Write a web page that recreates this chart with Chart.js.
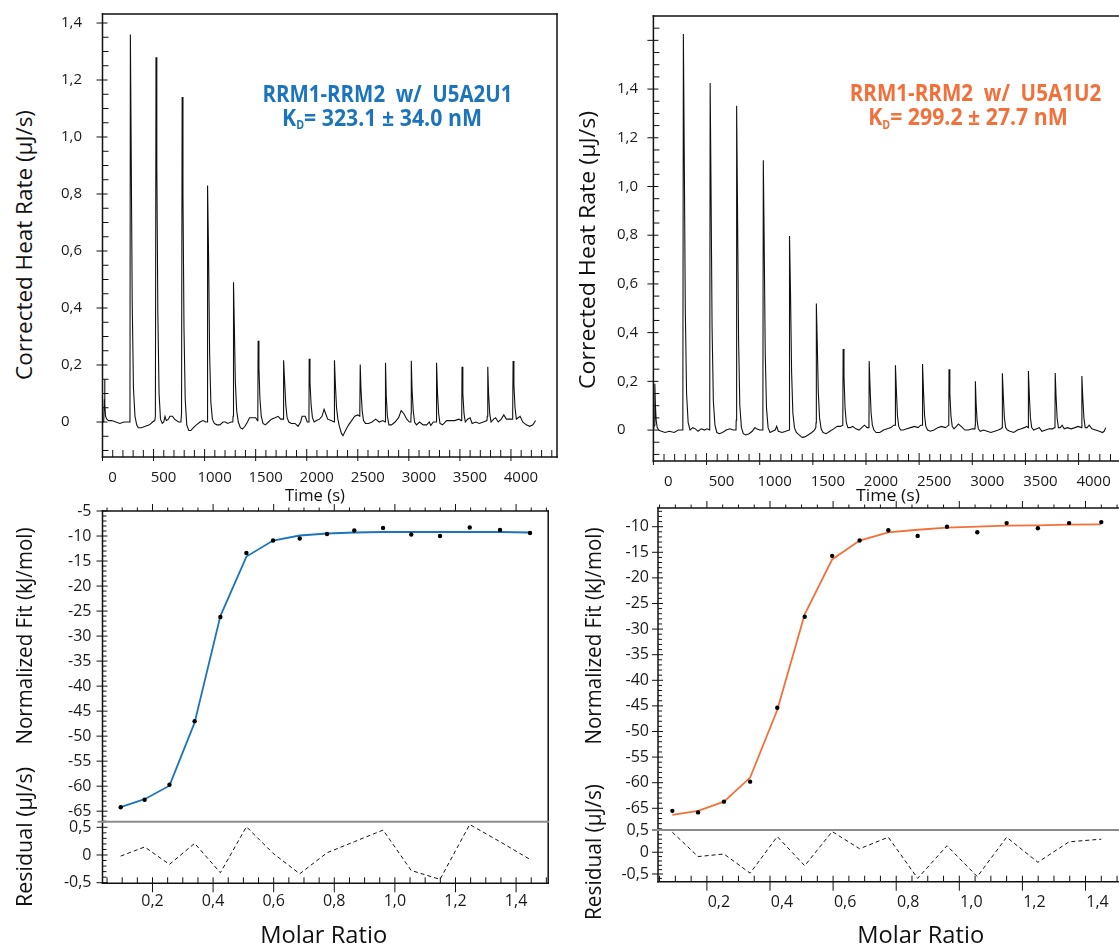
<!DOCTYPE html>
<html><head><meta charset="utf-8">
<script src="https://cdn.jsdelivr.net/npm/chart.js@4.4.1/dist/chart.umd.min.js"></script>
<style>
html,body{margin:0;padding:0;background:#fff;overflow:hidden;width:1119px;height:944px;position:relative;}
canvas{position:absolute;}
.t{position:absolute;white-space:pre;line-height:1;margin:0;transform-origin:50% 50%;}
.sub{font-size:0.5em;position:relative;top:0.32em;}
</style></head><body>
<script>
// ---------- DATA ----------
const timeTicks = [0,500,1000,1500,2000,2500,3000,3500,4000];
const heatTicks = [0,0.2,0.4,0.6,0.8,1.0,1.2,1.4];
const fitTicksL = [-65,-60,-55,-50,-45,-40,-35,-30,-25,-20,-15,-10,-5];
const fitTicksR = [-65,-60,-55,-50,-45,-40,-35,-30,-25,-20,-15,-10];
const residTicks = [-0.5,0,0.5];
const molarTicks = [0.2,0.4,0.6,0.8,1.0,1.2,1.4];

// thermogram U5A2U1 : [time (s), corrected heat rate (µJ/s)]
const thermoL = [
[0,0.0],[12,0.0],[18,0.08],[21,0.15],[24,0.06],[30,0.02],[42,0.01],[60,0.005],[90,0.005],[130,0.0],[170,-0.005],[210,0.0],[250,0.0],[265,0.0],
[269,0.05],[273,1.36],[281,0.95],[291,0.42],[303,0.12],[318,0.02],[335,-0.01],[350,-0.02],[380,-0.02],[420,-0.015],[460,-0.01],[490,0.0],[512,0.005],
[518,0.02],[524,1.28],[532,0.9],[542,0.38],[554,0.1],[568,0.01],[585,-0.005],[600,0.0],[612,0.02],[625,0.005],[645,0.01],[660,0.02],[685,0.02],[705,0.01],[745,0.0],[768,0.0],
[774,0.03],[780,1.14],[788,0.8],[798,0.33],[810,0.08],[825,-0.01],[845,-0.03],[865,-0.03],[890,-0.02],[920,-0.01],[955,0.0],[985,0.005],[1010,0.0],[1024,0.0],
[1027,0.02],[1031,0.83],[1039,0.58],[1049,0.24],[1061,0.07],[1076,0.01],[1095,-0.005],[1120,-0.01],[1150,-0.01],[1180,0.0],[1205,0.0],[1225,-0.005],[1260,0.0],[1276,0.0],
[1279,0.02],[1283,0.49],[1291,0.34],[1301,0.14],[1314,0.04],[1330,0.0],[1350,-0.02],[1370,-0.025],[1395,-0.015],[1420,0.0],[1440,0.015],[1470,0.015],[1500,0.015],[1518,0.005],
[1521,0.02],[1524,0.285],[1532,0.19],[1542,0.08],[1555,0.02],[1572,-0.005],[1595,-0.01],[1625,0.0],[1655,0.01],[1690,0.015],[1720,0.02],[1745,0.01],[1768,0.01],
[1771,0.03],[1776,0.217],[1784,0.14],[1795,0.06],[1808,0.015],[1825,0.0],[1850,-0.005],[1885,-0.005],[1915,-0.015],[1940,0.0],[1955,0.02],[1985,0.02],[2005,0.0],[2020,0.0],
[2022,0.03],[2024,0.222],[2032,0.14],[2043,0.06],[2056,0.015],[2073,0.0],[2095,0.005],[2125,0.01],[2150,0.02],[2170,0.045],[2185,0.03],[2205,0.01],[2240,0.005],[2268,0.0],
[2270,0.03],[2273,0.217],[2281,0.13],[2292,0.05],[2305,0.01],[2320,-0.015],[2340,-0.04],[2355,-0.048],[2380,-0.03],[2410,-0.01],[2440,0.005],[2470,0.02],[2500,0.025],[2518,0.02],
[2520,0.04],[2524,0.202],[2532,0.11],[2543,0.04],[2556,0.005],[2575,-0.005],[2605,-0.005],[2640,0.0],[2675,0.01],[2710,0.0],[2745,0.005],[2768,0.0],
[2770,0.02],[2773,0.208],[2779,0.09],[2790,0.02],[2805,-0.01],[2830,-0.01],[2865,0.0],[2900,0.015],[2925,0.04],[2950,0.03],[2980,0.01],[3005,0.0],[3020,0.0],
[3022,0.03],[3024,0.215],[3032,0.11],[3043,0.04],[3056,0.0],[3075,-0.01],[3105,0.0],[3140,-0.01],[3175,-0.01],[3200,0.0],[3215,-0.012],[3240,0.0],[3268,0.0],
[3270,0.03],[3273,0.208],[3281,0.1],[3292,0.03],[3305,-0.005],[3330,-0.01],[3370,0.005],[3410,0.005],[3450,0.005],[3490,0.01],[3515,0.005],
[3518,0.02],[3521,0.194],[3529,0.1],[3540,0.03],[3553,0.0],[3575,0.01],[3600,0.015],[3620,-0.005],[3655,0.0],[3690,-0.005],[3730,0.0],[3765,0.005],
[3768,0.02],[3773,0.194],[3781,0.1],[3792,0.03],[3805,0.0],[3830,0.01],[3850,0.015],[3875,0.0],[3905,0.01],[3930,0.025],[3955,0.01],[3990,0.01],[4015,0.01],
[4017,0.03],[4021,0.214],[4029,0.13],[4040,0.05],[4053,0.01],[4070,0.015],[4090,0.02],[4115,0.0],[4150,-0.01],[4185,-0.015],[4215,-0.01],[4241,0.005]
];

// thermogram U5A1U2
const thermoR = [
[0,0.0],[8,0.02],[12,0.12],[15,0.19],[19,0.1],[26,0.04],[36,0.01],[50,0.0],[75,-0.005],[110,-0.01],[150,-0.005],[195,-0.01],[235,0.0],[272,0.0],
[277,0.05],[282,1.626],[290,1.15],[300,0.5],[312,0.15],[327,0.03],[345,0.0],[370,0.01],[395,0.005],[420,-0.005],[450,0.005],[480,0.0],[505,0.005],[528,0.0],
[530,0.04],[534,1.425],[542,1.0],[552,0.42],[564,0.12],[579,0.02],[597,-0.01],[620,-0.015],[650,-0.01],[685,0.0],[720,0.005],[750,0.0],[777,0.0],
[779,0.04],[783,1.332],[791,0.93],[801,0.38],[813,0.1],[828,0.01],[846,-0.015],[870,-0.02],[900,-0.015],[930,-0.005],[955,0.01],[970,0.005],[1000,0.0],[1028,0.0],
[1030,0.04],[1034,1.108],[1042,0.78],[1052,0.32],[1064,0.09],[1079,0.01],[1097,-0.01],[1120,-0.005],[1145,0.0],[1160,0.015],[1175,-0.005],[1210,-0.01],[1245,-0.005],[1277,0.0],
[1279,0.03],[1282,0.797],[1290,0.56],[1300,0.24],[1312,0.07],[1327,0.01],[1345,-0.01],[1370,-0.02],[1400,-0.03],[1425,-0.028],[1455,-0.02],[1490,-0.01],[1515,0.0],[1528,0.01],
[1530,0.03],[1533,0.52],[1541,0.37],[1551,0.16],[1563,0.05],[1578,0.005],[1596,-0.01],[1625,-0.015],[1660,-0.005],[1695,0.005],[1730,0.015],[1760,0.015],[1780,0.02],
[1782,0.04],[1785,0.333],[1793,0.22],[1803,0.09],[1815,0.03],[1830,0.01],[1850,0.01],[1875,0.015],[1905,0.005],[1935,0.0],[1960,0.01],[1985,0.02],[2010,0.01],[2026,0.01],
[2028,0.03],[2030,0.283],[2038,0.18],[2048,0.07],[2060,0.02],[2075,0.0],[2095,-0.01],[2130,-0.01],[2165,0.0],[2200,0.005],[2235,0.01],[2260,0.02],[2274,0.02],
[2276,0.04],[2278,0.266],[2286,0.16],[2296,0.06],[2308,0.015],[2325,0.0],[2350,0.0],[2385,0.005],[2420,0.01],[2455,0.015],[2490,0.01],[2515,0.02],[2529,0.02],
[2531,0.04],[2533,0.271],[2541,0.16],[2551,0.06],[2563,0.015],[2580,0.0],[2605,-0.005],[2640,0.0],[2675,0.01],[2710,0.015],[2745,0.01],[2765,0.015],[2777,0.02],
[2779,0.04],[2781,0.25],[2789,0.15],[2799,0.06],[2811,0.015],[2828,0.005],[2850,0.015],[2870,0.025],[2895,0.015],[2930,0.0],[2965,0.0],[3000,0.005],[3025,0.005],
[3027,0.02],[3029,0.2],[3036,0.11],[3045,0.04],[3057,0.005],[3075,-0.005],[3105,0.0],[3140,-0.005],[3175,-0.01],[3210,-0.005],[3245,0.0],[3270,0.005],[3280,0.01],
[3282,0.03],[3284,0.233],[3292,0.14],[3302,0.05],[3314,0.01],[3330,0.0],[3355,-0.005],[3390,-0.01],[3425,0.0],[3460,0.005],[3490,0.01],[3510,0.015],[3525,0.01],
[3527,0.03],[3529,0.242],[3537,0.14],[3547,0.05],[3559,0.01],[3578,0.0],[3605,0.005],[3630,0.01],[3655,-0.005],[3690,0.0],[3725,0.005],[3755,0.005],[3776,0.01],
[3778,0.03],[3780,0.234],[3788,0.14],[3798,0.05],[3810,0.01],[3828,0.01],[3845,0.02],[3865,0.005],[3895,0.01],[3930,0.005],[3965,0.01],[3995,0.015],[4028,0.01],
[4030,0.03],[4032,0.222],[4040,0.13],[4050,0.05],[4062,0.01],[4080,0.01],[4100,0.02],[4125,0.005],[4160,0.0],[4195,-0.005],[4225,-0.01],[4240,-0.005],[4256,0.01]
];

// integrated heats, fits and residuals
const molarL = [0.095,0.174,0.256,0.339,0.424,0.510,0.598,0.686,0.776,0.866,0.961,1.054,1.149,1.247,1.347,1.446];
const heatL  = [-64.2,-62.7,-59.7,-47.0,-26.2,-13.4,-10.9,-10.5,-9.6,-8.9,-8.4,-9.7,-10.0,-8.3,-8.8,-9.4];
const fitL   = [-64.2,-62.6,-59.9,-47.3,-26.0,-14.1,-10.9,-9.9,-9.5,-9.3,-9.2,-9.2,-9.2,-9.2,-9.2,-9.3];
const residL = [-0.02,0.145,-0.17,0.21,-0.32,0.51,0.03,-0.34,0.04,0.24,0.45,-0.28,-0.44,0.55,0.24,-0.08];

const molarR = [0.0905,0.172,0.254,0.337,0.423,0.510,0.597,0.684,0.775,0.868,0.961,1.057,1.150,1.249,1.348,1.450];
const heatR  = [-65.5,-65.8,-63.7,-59.8,-45.35,-27.6,-15.7,-12.7,-10.7,-11.8,-10.0,-11.1,-9.3,-10.3,-9.3,-9.1];
const fitR   = [-66.3,-65.5,-63.7,-59.0,-45.8,-27.1,-16.4,-12.7,-11.1,-10.6,-10.2,-10.0,-9.8,-9.75,-9.6,-9.55];
const residR = [0.46,-0.10,-0.04,-0.48,0.36,-0.31,0.475,0.08,0.345,-0.60,0.15,-0.56,0.345,-0.23,0.24,0.30];

// ---------- STYLE ----------
const BLUE = '#1c75bc', ORANGE = '#f2703a', INK = '#111';
const TICK_FONT = {family: "'Open Sans', sans-serif", size: 15};
const TICK_FONT_FIT = {family: "'Open Sans', sans-serif", size: 16};

function range(a, b, s) { const r = []; for (let i = 0; a + i * s <= b + 1e-9; i++) r.push(+(a + i * s).toFixed(6)); return r; }
function isMult(v, m) { return Math.abs(v / m - Math.round(v / m)) < 1e-6; }
const fmtDec = v => Math.abs(v) < 1e-9 ? '0' : (+v).toFixed(1).replace('.', ',');
const fmtInt = v => String(Math.round(v));

const framePlugin = {
  id: 'frame',
  afterDatasetsDraw(chart, args, o) {
    const ctx = chart.ctx, a = chart.chartArea;
    ctx.save();
    ctx.lineCap = 'butt';
    (o.ticks || []).forEach(t => {
      const s = chart.scales[t.scale];
      ctx.strokeStyle = INK; ctx.lineWidth = 1;
      ctx.beginPath();
      t.values.forEach(v => {
        const p = s.getPixelForValue(v);
        if (t.edge === 'bottom') { ctx.moveTo(p, a.bottom + t.out); ctx.lineTo(p, a.bottom - t.inn); }
        else if (t.edge === 'top') { ctx.moveTo(p, a.top - t.out); ctx.lineTo(p, a.top + t.inn); }
        else { ctx.moveTo(a.left - t.out, p); ctx.lineTo(a.left + t.inn, p); }
      });
      ctx.stroke();
    });
    (o.sides || []).forEach(sd => {
      ctx.strokeStyle = sd.color || INK; ctx.lineWidth = sd.width || 1.5;
      const e = (sd.width || 1.5) / 2;
      ctx.beginPath();
      if (sd.edge === 'top') { ctx.moveTo(a.left - e - (sd.ext || 0), a.top); ctx.lineTo(a.right + e, a.top); }
      if (sd.edge === 'bottom') { ctx.moveTo(a.left - e, a.bottom); ctx.lineTo(a.right + e, a.bottom); }
      if (sd.edge === 'left') { ctx.moveTo(a.left, a.top - e); ctx.lineTo(a.left, a.bottom + e); }
      if (sd.edge === 'right') { ctx.moveTo(a.right, a.top - e); ctx.lineTo(a.right, a.bottom + e); }
      ctx.stroke();
    });
    ctx.restore();
  }
};

function makeChart(box, spec) {
  const cl = spec.yLeft !== undefined ? spec.yLeft : Math.floor(box.x) - 70;
  const ct = Math.floor(box.y) - 30;
  const axW = box.x - cl, padT = box.y - ct;
  const W = Math.ceil(axW + box.w + 30), padR = W - axW - box.w;
  const H = Math.ceil(padT + box.h + (spec.xShow ? 45 : 30));
  const bottomSpace = H - padT - box.h;
  const c = document.createElement('canvas');
  c.width = W; c.height = H;
  c.style.left = cl + 'px'; c.style.top = ct + 'px';
  document.body.appendChild(c);
  const chart = new Chart(c, {
    type: 'line',
    data: {datasets: spec.datasets},
    options: {
      responsive: false, maintainAspectRatio: false, animation: false, devicePixelRatio: 1, events: [],
      layout: {padding: {top: padT, right: padR, left: 0, bottom: spec.xShow ? 0 : bottomSpace}},
      plugins: {legend: {display: false}, tooltip: {enabled: false}, frame: spec.frame},
      scales: {
        x: {
          type: 'linear', min: spec.xr[0], max: spec.xr[1], display: spec.xShow,
          grid: {display: false, drawTicks: false}, border: {display: false},
          ticks: {font: spec.xFont || TICK_FONT, color: '#1a1a1a', padding: spec.xPad || 10, labelOffset: spec.xOff || 0,
                  maxRotation: 0, minRotation: 0, autoSkip: false, callback: spec.xFmt || fmtDec},
          afterBuildTicks: s => { if (spec.xTicks) s.ticks = spec.xTicks.map(v => ({value: v})); },
          afterFit: s => { if (spec.xShow) s.height = bottomSpace; }
        },
        y: {
          type: 'linear', min: spec.yr[0], max: spec.yr[1],
          grid: {display: false, drawTicks: false}, border: {display: false},
          ticks: {font: spec.yFont || TICK_FONT, color: '#1a1a1a', padding: spec.yPad || 8, autoSkip: false,
                  crossAlign: spec.yAlign || 'near', callback: spec.yFmt},
          afterBuildTicks: s => { s.ticks = spec.yTicks.map(v => ({value: v})); },
          afterFit: s => { s.width = axW; }
        }
      }
    },
    plugins: [framePlugin]
  });
  const ca = chart.chartArea;
  c.style.left = (box.x - ca.left) + 'px';
  c.style.top = (box.y - ca.top) + 'px';
  return chart;
}

function addText(html, o) {
  const d = document.createElement('div');
  d.className = 't';
  d.innerHTML = html;
  d.style.font = (o.weight || 400) + ' ' + o.size + 'px ' + (o.family || "'Open Sans', sans-serif");
  d.style.color = o.color || INK;
  document.body.appendChild(d);
  const r = d.getBoundingClientRect();
  const k = o.len / r.width;
  d.style.left = (o.cx - r.width / 2) + 'px';
  if (o.rot) {
    d.style.top = (o.cy - r.height / 2) + 'px';
    d.style.transform = 'rotate(-90deg) scaleX(' + k + ')';
  } else {
    d.style.top = (o.base - 0.888 * o.size) + 'px';
    d.style.transform = 'scaleX(' + k + ')';
  }
}

const pts = (xs, ys) => xs.map((x, i) => ({x: x, y: ys[i]}));
const thermoSet = arr => [{data: arr.map(p => ({x: p[0], y: p[1]})), borderColor: INK, borderWidth: 1.1, pointRadius: 0, tension: 0, fill: false}];
const fitSets = (xs, heat, fit, col) => [
  {data: pts(xs, heat), showLine: false, pointRadius: 2.2, pointBackgroundColor: '#000', pointBorderWidth: 0},
  {data: pts(xs, fit), borderColor: col, borderWidth: 1.8, pointRadius: 0, tension: 0, fill: false}
];
const residSet = (xs, r) => [{data: pts(xs, r), borderColor: INK, borderWidth: 1, borderDash: [4, 3], pointRadius: 0, tension: 0, fill: false}];

function thermoTicks(tmax, ymin, ymax, majTop) {
  return [
    {scale: 'x', edge: 'bottom', values: range(0, tmax, 100).filter(v => !isMult(v, 500)), inn: 7, out: 0},
    {scale: 'x', edge: 'bottom', values: range(0, tmax, 500), inn: 8, out: 4},
    {scale: 'y', edge: 'left', values: range(-0.1, ymax, 0.05).filter(v => !isMult(v, 0.2)), inn: 6, out: 0},
    {scale: 'y', edge: 'left', values: range(0, majTop, 0.2), inn: 5, out: 6}
  ];
}
function fitTicks(xmin, xmax, ymin, ymax) {
  return [
    {scale: 'x', edge: 'top', values: range(0.05, xmax, 0.05).filter(v => v > xmin && !isMult(v, 0.2)), inn: 0, out: 3.5},
    {scale: 'x', edge: 'top', values: range(0.2, xmax, 0.2), inn: 0, out: 7},
    {scale: 'y', edge: 'left', values: range(-69, ymax, 1).filter(v => v >= ymin && !isMult(v, 5)), inn: 4, out: 0},
    {scale: 'y', edge: 'left', values: range(-65, ymax, 5), inn: 5, out: 6}
  ];
}
function residTicksMarks(xmin, xmax, ymin, ymax) {
  return [
    {scale: 'x', edge: 'bottom', values: range(0.05, xmax, 0.05).filter(v => v > xmin && !isMult(v, 0.2)), inn: 6, out: 0},
    {scale: 'x', edge: 'bottom', values: range(0.2, xmax, 0.2), inn: 6, out: 9},
    {scale: 'y', edge: 'left', values: range(-0.6, ymax, 0.1).filter(v => v >= ymin && !isMult(v, 0.5)), inn: 4, out: 0},
    {scale: 'y', edge: 'left', values: [-0.5, 0, 0.5], inn: 5, out: 6}
  ];
}
const fullBox = [{edge: 'top'}, {edge: 'right'}, {edge: 'bottom'}, {edge: 'left'}];

// ---------- LEFT COLUMN ----------
makeChart({x: 102.5, y: 14, w: 454.5, h: 443}, {
  datasets: thermoSet(thermoL), xr: [0, 4451], yr: [-0.1228, 1.4316], xShow: true, yLeft: 61, yAlign: 'far',
  xTicks: timeTicks, yTicks: heatTicks, xFmt: fmtInt, yFmt: fmtDec, xPad: 12, xOff: 10,
  frame: {sides: fullBox, ticks: thermoTicks(4400, -0.1228, 1.4316, 1.4)}
});
makeChart({x: 102.5, y: 511, w: 445.7, h: 310.7}, {
  datasets: fitSets(molarL, heatL, fitL, BLUE), xr: [0.035, 1.506], yr: [-67.1, -5], xShow: false,
  yTicks: fitTicksL, yFmt: fmtInt, yPad: 11, yFont: TICK_FONT_FIT,
  frame: {sides: [{edge: 'top'}, {edge: 'left'}, {edge: 'right'}], ticks: fitTicks(0.035, 1.506, -67.1, -5)}
});
makeChart({x: 102.5, y: 821.7, w: 445.7, h: 61.6}, {
  datasets: residSet(molarL, residL), xr: [0.035, 1.506], yr: [-0.511, 0.601], xShow: true,
  xTicks: molarTicks, yTicks: residTicks, xFmt: fmtDec, yFmt: fmtDec, xPad: 9, yPad: 11, yFont: TICK_FONT_FIT, xFont: TICK_FONT_FIT,
  frame: {sides: [{edge: 'left'}, {edge: 'right'}, {edge: 'bottom'}, {edge: 'top', color: '#8c8c8c', width: 2, ext: 4}],
          ticks: residTicksMarks(0.035, 1.506, -0.511, 0.601)}
});

// ---------- RIGHT COLUMN ----------
makeChart({x: 653.4, y: 16, w: 520, h: 445}, {
  datasets: thermoSet(thermoR), xr: [0, 4892], yr: [-0.127, 1.70], xShow: true, yLeft: 617, yAlign: 'far',
  xTicks: timeTicks, yTicks: heatTicks, xFmt: fmtInt, yFmt: fmtDec, xPad: 12, xOff: 15,
  frame: {sides: fullBox, ticks: thermoTicks(4800, -0.127, 1.67, 1.6)}
});
makeChart({x: 658, y: 508, w: 515, h: 322}, {
  datasets: fitSets(molarR, heatR, fitR, ORANGE), xr: [0.045, 1.6773], yr: [-69.24, -6.35], xShow: false,
  yTicks: fitTicksR, yFmt: fmtInt, yPad: 9, yFont: TICK_FONT_FIT,
  frame: {sides: [{edge: 'top'}, {edge: 'left'}, {edge: 'right'}], ticks: fitTicks(0.045, 1.6773, -69.24, -6.35)}
});
makeChart({x: 658, y: 830, w: 515, h: 51.7}, {
  datasets: residSet(molarR, residR), xr: [0.045, 1.6773], yr: [-0.677, 0.511], xShow: true,
  xTicks: molarTicks, yTicks: residTicks, xFmt: fmtDec, yFmt: fmtDec, xPad: 11, xOff: 12, yPad: 9, yFont: TICK_FONT_FIT, xFont: TICK_FONT_FIT,
  frame: {sides: [{edge: 'left'}, {edge: 'right'}, {edge: 'bottom'}, {edge: 'top', color: '#8c8c8c', width: 2, ext: 5}],
          ticks: residTicksMarks(0.045, 1.6773, -0.677, 0.511)}
});

// ---------- TEXT ----------
const BOLD = {weight: 700, size: 23, family: "'Open Sans', sans-serif"};
addText('RRM1-RRM2  w/  U5A2U1', Object.assign({cx: 387.5, base: 97, len: 250, color: BLUE}, BOLD));
addText('K<span class="sub">D</span>= 323.1 ± 34.0 nM', Object.assign({cx: 382, base: 121, len: 200, color: BLUE}, BOLD));
addText('RRM1-RRM2  w/  U5A1U2', Object.assign({cx: 975, base: 96.5, len: 251.5, color: ORANGE}, BOLD));
addText('K<span class="sub">D</span>= 299.2 ± 27.7 nM', Object.assign({cx: 968, base: 120.7, len: 199.6, color: ORANGE}, BOLD));

addText('Corrected Heat Rate (µJ/s)', {cx: 24, cy: 245, len: 270, size: 21, rot: true});
addText('Corrected Heat Rate (µJ/s)', {cx: 587, cy: 250, len: 278, size: 21, rot: true});
addText('Normalized Fit (kJ/mol)', {cx: 24, cy: 636, len: 217, size: 21, rot: true});
addText('Normalized Fit (kJ/mol)', {cx: 593, cy: 636, len: 217, size: 21, rot: true});
addText('Residual (µJ/s)', {cx: 24, cy: 837, len: 140, size: 21, rot: true});
addText('Residual (µJ/s)', {cx: 593, cy: 852, len: 136, size: 21, rot: true});
addText('Time (s)', {cx: 315, base: 498, len: 60, size: 16});
addText('Time (s)', {cx: 888, base: 498, len: 64, size: 16});
addText('Molar Ratio', {cx: 324, base: 938, len: 127, size: 23});
addText('Molar Ratio', {cx: 921, base: 938, len: 127, size: 23});
</script>
</body></html>
